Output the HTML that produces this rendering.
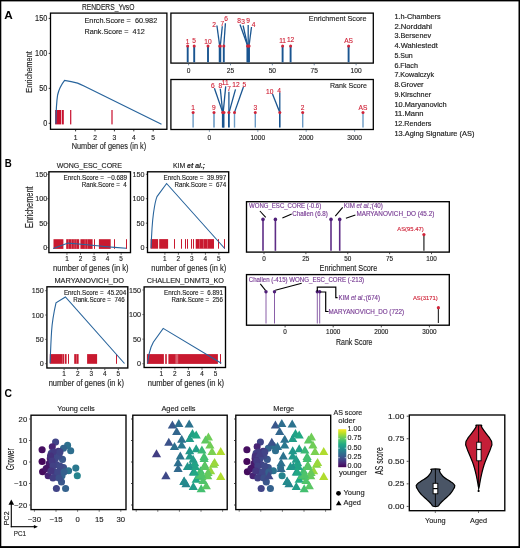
<!DOCTYPE html>
<html><head><meta charset="utf-8"><style>
html,body{margin:0;padding:0;background:#fff;}
svg{display:block;font-family:"Liberation Sans", sans-serif;will-change:transform;}
text{white-space:pre;}
</style></head><body>
<svg width="520" height="548" viewBox="0 0 520 548">
<rect width="520" height="548" fill="#fff"/>
<rect x="0.00" y="0.00" width="520.00" height="1.40" fill="#000"/>
<rect x="0.00" y="0.00" width="1.30" height="548.00" fill="#000"/>
<rect x="518.50" y="0.00" width="1.50" height="548.00" fill="#000"/>
<rect x="0.00" y="546.10" width="520.00" height="1.90" fill="#000"/>
<text x="4.30" y="18.80" font-size="11.2" textLength="8.50" lengthAdjust="spacingAndGlyphs" fill="#000" font-weight="bold">A</text>
<text x="81.90" y="10.00" font-size="8.6" textLength="52.50" lengthAdjust="spacingAndGlyphs" fill="#1e1e1e" stroke="#1e1e1e" stroke-width="0.14">RENDERS_YvsO</text>
<rect x="50.50" y="13.10" width="116.40" height="116.20" fill="none" stroke="#000" stroke-width="1.3"/>
<text x="47.30" y="21.35" font-size="8.2" text-anchor="end" textLength="12.21" lengthAdjust="spacingAndGlyphs" fill="#1e1e1e" stroke="#1e1e1e" stroke-width="0.14">150</text>
<line x1="48.70" y1="18.40" x2="50.00" y2="18.40" stroke="#000" stroke-width="0.8"/>
<text x="47.30" y="56.32" font-size="8.2" text-anchor="end" textLength="12.21" lengthAdjust="spacingAndGlyphs" fill="#1e1e1e" stroke="#1e1e1e" stroke-width="0.14">100</text>
<line x1="48.70" y1="53.37" x2="50.00" y2="53.37" stroke="#000" stroke-width="0.8"/>
<text x="47.30" y="91.28" font-size="8.2" text-anchor="end" textLength="8.14" lengthAdjust="spacingAndGlyphs" fill="#1e1e1e" stroke="#1e1e1e" stroke-width="0.14">50</text>
<line x1="48.70" y1="88.33" x2="50.00" y2="88.33" stroke="#000" stroke-width="0.8"/>
<text x="47.30" y="126.25" font-size="8.2" text-anchor="end" textLength="4.07" lengthAdjust="spacingAndGlyphs" fill="#1e1e1e" stroke="#1e1e1e" stroke-width="0.14">0</text>
<line x1="48.70" y1="123.30" x2="50.00" y2="123.30" stroke="#000" stroke-width="0.8"/>
<line x1="75.60" y1="129.80" x2="75.60" y2="131.40" stroke="#000" stroke-width="0.8"/>
<text x="75.60" y="139.50" font-size="6.7" text-anchor="middle" fill="#1e1e1e" stroke="#1e1e1e" stroke-width="0.14">1</text>
<line x1="95.00" y1="129.80" x2="95.00" y2="131.40" stroke="#000" stroke-width="0.8"/>
<text x="95.00" y="139.50" font-size="6.7" text-anchor="middle" fill="#1e1e1e" stroke="#1e1e1e" stroke-width="0.14">2</text>
<line x1="114.40" y1="129.80" x2="114.40" y2="131.40" stroke="#000" stroke-width="0.8"/>
<text x="114.40" y="139.50" font-size="6.7" text-anchor="middle" fill="#1e1e1e" stroke="#1e1e1e" stroke-width="0.14">3</text>
<line x1="133.80" y1="129.80" x2="133.80" y2="131.40" stroke="#000" stroke-width="0.8"/>
<text x="133.80" y="139.50" font-size="6.7" text-anchor="middle" fill="#1e1e1e" stroke="#1e1e1e" stroke-width="0.14">4</text>
<line x1="153.20" y1="129.80" x2="153.20" y2="131.40" stroke="#000" stroke-width="0.8"/>
<text x="153.20" y="139.50" font-size="6.7" text-anchor="middle" fill="#1e1e1e" stroke="#1e1e1e" stroke-width="0.14">5</text>
<text x="71.70" y="149.40" font-size="9.4" textLength="74.50" lengthAdjust="spacingAndGlyphs" fill="#1e1e1e" stroke="#1e1e1e" stroke-width="0.14">Number of genes (in k)</text>
<text x="0" y="0" font-size="9.9" text-anchor="middle" textLength="41.50" lengthAdjust="spacingAndGlyphs" fill="#1e1e1e" stroke="#1e1e1e" stroke-width="0.14" transform="translate(31.70,72.00) rotate(-90)">Enrichement</text>
<text x="84.50" y="23.40" font-size="7.2" textLength="72.70" lengthAdjust="spacingAndGlyphs" fill="#1e1e1e" stroke="#1e1e1e" stroke-width="0.14">Enrch.Score =  60.982</text>
<text x="84.50" y="34.10" font-size="7.2" textLength="60.20" lengthAdjust="spacingAndGlyphs" fill="#1e1e1e" stroke="#1e1e1e" stroke-width="0.14">Rank.Score =  412</text>
<rect x="55.10" y="110.00" width="6.20" height="14.40" fill="#c8102e"/>
<rect x="62.00" y="110.00" width="1.80" height="14.40" fill="#c8102e"/>
<rect x="70.10" y="110.00" width="1.20" height="14.40" fill="#c8102e"/>
<rect x="111.40" y="110.00" width="1.20" height="14.40" fill="#c8102e"/>
<path d="M55.9,123.8 C56,115 56.2,104 57.6,95 C59,89 61,85 64.6,80.4 L71.2,81.7 L77.6,83.1 C80,84 82,85 84,86 L161.5,124.2" stroke="#28649c" fill="none" stroke-width="1.2"/>
<rect x="170.90" y="13.10" width="202.40" height="50.00" fill="none" stroke="#000" stroke-width="1.3"/>
<text x="308.80" y="21.30" font-size="7.6" textLength="57.70" lengthAdjust="spacingAndGlyphs" fill="#1e1e1e" stroke="#1e1e1e" stroke-width="0.14">Enrichment Score</text>
<line x1="188.60" y1="63.80" x2="188.60" y2="65.30" stroke="#4a6a8a" stroke-width="0.8"/>
<text x="188.60" y="73.20" font-size="6.6" text-anchor="middle" fill="#1e1e1e" stroke="#1e1e1e" stroke-width="0.14">0</text>
<line x1="230.47" y1="63.80" x2="230.47" y2="65.30" stroke="#4a6a8a" stroke-width="0.8"/>
<text x="230.47" y="73.20" font-size="6.6" text-anchor="middle" fill="#1e1e1e" stroke="#1e1e1e" stroke-width="0.14">25</text>
<line x1="272.35" y1="63.80" x2="272.35" y2="65.30" stroke="#4a6a8a" stroke-width="0.8"/>
<text x="272.35" y="73.20" font-size="6.6" text-anchor="middle" fill="#1e1e1e" stroke="#1e1e1e" stroke-width="0.14">50</text>
<line x1="314.23" y1="63.80" x2="314.23" y2="65.30" stroke="#4a6a8a" stroke-width="0.8"/>
<text x="314.23" y="73.20" font-size="6.6" text-anchor="middle" fill="#1e1e1e" stroke="#1e1e1e" stroke-width="0.14">75</text>
<line x1="356.10" y1="63.80" x2="356.10" y2="65.30" stroke="#4a6a8a" stroke-width="0.8"/>
<text x="356.10" y="73.20" font-size="6.6" text-anchor="middle" fill="#1e1e1e" stroke="#1e1e1e" stroke-width="0.14">100</text>
<line x1="187.70" y1="46.00" x2="187.70" y2="62.30" stroke="#1a5590" stroke-width="1.9"/>
<line x1="194.20" y1="46.00" x2="194.20" y2="62.30" stroke="#1a5590" stroke-width="1.9"/>
<line x1="208.00" y1="46.00" x2="208.00" y2="62.30" stroke="#1a5590" stroke-width="1.9"/>
<line x1="219.70" y1="46.00" x2="219.70" y2="62.30" stroke="#1a5590" stroke-width="1.9"/>
<line x1="220.30" y1="46.00" x2="220.30" y2="62.30" stroke="#1a5590" stroke-width="1.9"/>
<line x1="223.80" y1="46.00" x2="223.80" y2="62.30" stroke="#1a5590" stroke-width="1.9"/>
<line x1="247.40" y1="46.00" x2="247.40" y2="62.30" stroke="#1a5590" stroke-width="1.9"/>
<line x1="248.30" y1="46.00" x2="248.30" y2="62.30" stroke="#1a5590" stroke-width="1.9"/>
<line x1="249.00" y1="46.00" x2="249.00" y2="62.30" stroke="#1a5590" stroke-width="1.9"/>
<line x1="282.60" y1="46.00" x2="282.60" y2="62.30" stroke="#1a5590" stroke-width="1.9"/>
<line x1="290.60" y1="46.00" x2="290.60" y2="62.30" stroke="#1a5590" stroke-width="1.9"/>
<line x1="348.60" y1="46.00" x2="348.60" y2="62.30" stroke="#1a5590" stroke-width="1.9"/>
<line x1="216.90" y1="25.50" x2="219.70" y2="46.00" stroke="#1a5590" stroke-width="1.3"/>
<line x1="222.30" y1="26.30" x2="220.30" y2="46.00" stroke="#1a5590" stroke-width="1.3"/>
<line x1="225.40" y1="23.20" x2="223.80" y2="46.00" stroke="#1a5590" stroke-width="1.3"/>
<line x1="240.00" y1="24.50" x2="247.70" y2="46.00" stroke="#1a5590" stroke-width="1.3"/>
<line x1="243.10" y1="25.50" x2="247.70" y2="46.00" stroke="#1a5590" stroke-width="1.3"/>
<line x1="248.20" y1="25.00" x2="248.20" y2="46.00" stroke="#1a5590" stroke-width="1.3"/>
<line x1="251.50" y1="27.00" x2="249.00" y2="46.00" stroke="#1a5590" stroke-width="1.3"/>
<circle cx="187.70" cy="46.00" r="1.5" fill="#d0253a"/>
<circle cx="194.20" cy="46.00" r="1.5" fill="#d0253a"/>
<circle cx="208.00" cy="46.00" r="1.5" fill="#d0253a"/>
<circle cx="219.70" cy="46.00" r="1.5" fill="#d0253a"/>
<circle cx="220.30" cy="46.00" r="1.5" fill="#d0253a"/>
<circle cx="223.80" cy="46.00" r="1.5" fill="#d0253a"/>
<circle cx="247.50" cy="46.00" r="1.5" fill="#d0253a"/>
<circle cx="248.30" cy="46.00" r="1.5" fill="#d0253a"/>
<circle cx="249.10" cy="46.00" r="1.5" fill="#d0253a"/>
<circle cx="282.60" cy="46.00" r="1.5" fill="#d0253a"/>
<circle cx="290.60" cy="46.00" r="1.5" fill="#d0253a"/>
<circle cx="348.60" cy="46.00" r="1.5" fill="#d0253a"/>
<text x="187.70" y="44.00" font-size="6.6" text-anchor="middle" fill="#d0253a" stroke="#d0253a" stroke-width="0.14">1</text>
<text x="194.20" y="42.80" font-size="6.6" text-anchor="middle" fill="#d0253a" stroke="#d0253a" stroke-width="0.14">5</text>
<text x="208.00" y="44.00" font-size="6.6" text-anchor="middle" fill="#d0253a" stroke="#d0253a" stroke-width="0.14">10</text>
<text x="214.20" y="26.80" font-size="6.6" text-anchor="middle" fill="#d0253a" stroke="#d0253a" stroke-width="0.14">2</text>
<text x="222.30" y="26.30" font-size="6.6" text-anchor="middle" fill="#d0253a" stroke="#d0253a" stroke-width="0.14">7</text>
<text x="226.20" y="21.20" font-size="6.6" text-anchor="middle" fill="#d0253a" stroke="#d0253a" stroke-width="0.14">6</text>
<text x="239.20" y="22.80" font-size="6.6" text-anchor="middle" fill="#d0253a" stroke="#d0253a" stroke-width="0.14">8</text>
<text x="243.10" y="24.30" font-size="6.6" text-anchor="middle" fill="#d0253a" stroke="#d0253a" stroke-width="0.14">3</text>
<text x="248.20" y="22.80" font-size="6.6" text-anchor="middle" fill="#d0253a" stroke="#d0253a" stroke-width="0.14">9</text>
<text x="253.50" y="26.80" font-size="6.6" text-anchor="middle" fill="#d0253a" stroke="#d0253a" stroke-width="0.14">4</text>
<text x="282.60" y="42.80" font-size="6.6" text-anchor="middle" fill="#d0253a" stroke="#d0253a" stroke-width="0.14">11</text>
<text x="290.60" y="41.80" font-size="6.6" text-anchor="middle" fill="#d0253a" stroke="#d0253a" stroke-width="0.14">12</text>
<text x="348.60" y="42.80" font-size="6.6" text-anchor="middle" fill="#d0253a" stroke="#d0253a" stroke-width="0.14">AS</text>
<rect x="170.90" y="79.50" width="202.40" height="50.00" fill="none" stroke="#000" stroke-width="1.3"/>
<text x="330.00" y="87.70" font-size="7.6" textLength="37.00" lengthAdjust="spacingAndGlyphs" fill="#1e1e1e" stroke="#1e1e1e" stroke-width="0.14">Rank Score</text>
<line x1="209.40" y1="130.20" x2="209.40" y2="131.70" stroke="#4a6a8a" stroke-width="0.8"/>
<text x="209.40" y="139.50" font-size="6.6" text-anchor="middle" fill="#1e1e1e" stroke="#1e1e1e" stroke-width="0.14">0</text>
<line x1="257.80" y1="130.20" x2="257.80" y2="131.70" stroke="#4a6a8a" stroke-width="0.8"/>
<text x="257.80" y="139.50" font-size="6.6" text-anchor="middle" fill="#1e1e1e" stroke="#1e1e1e" stroke-width="0.14">1000</text>
<line x1="306.20" y1="130.20" x2="306.20" y2="131.70" stroke="#4a6a8a" stroke-width="0.8"/>
<text x="306.20" y="139.50" font-size="6.6" text-anchor="middle" fill="#1e1e1e" stroke="#1e1e1e" stroke-width="0.14">2000</text>
<line x1="354.60" y1="130.20" x2="354.60" y2="131.70" stroke="#4a6a8a" stroke-width="0.8"/>
<text x="354.60" y="139.50" font-size="6.6" text-anchor="middle" fill="#1e1e1e" stroke="#1e1e1e" stroke-width="0.14">3000</text>
<line x1="193.10" y1="112.40" x2="193.10" y2="127.60" stroke="#6d9cc5" stroke-width="1.4"/>
<line x1="214.00" y1="112.40" x2="214.00" y2="127.60" stroke="#6d9cc5" stroke-width="1.6"/>
<line x1="222.70" y1="112.40" x2="222.70" y2="127.60" stroke="#1a5590" stroke-width="1.6"/>
<line x1="223.70" y1="112.40" x2="223.70" y2="127.60" stroke="#1a5590" stroke-width="1.6"/>
<line x1="228.90" y1="112.40" x2="228.90" y2="127.60" stroke="#1a5590" stroke-width="1.8"/>
<line x1="234.50" y1="112.40" x2="234.50" y2="127.60" stroke="#6d9cc5" stroke-width="1.4"/>
<line x1="255.30" y1="112.40" x2="255.30" y2="127.60" stroke="#6d9cc5" stroke-width="1.4"/>
<line x1="279.80" y1="112.40" x2="279.80" y2="127.60" stroke="#1a5590" stroke-width="1.6"/>
<line x1="302.70" y1="112.40" x2="302.70" y2="127.60" stroke="#6d9cc5" stroke-width="1.4"/>
<line x1="363.00" y1="112.40" x2="363.00" y2="127.60" stroke="#6d9cc5" stroke-width="1.4"/>
<line x1="214.40" y1="88.30" x2="222.70" y2="112.40" stroke="#1a5590" stroke-width="1.3"/>
<line x1="220.30" y1="88.80" x2="222.70" y2="112.40" stroke="#1a5590" stroke-width="1.3"/>
<line x1="225.70" y1="86.40" x2="223.20" y2="112.40" stroke="#1a5590" stroke-width="1.3"/>
<line x1="228.90" y1="91.80" x2="228.90" y2="112.40" stroke="#1a5590" stroke-width="1.3"/>
<line x1="235.50" y1="89.30" x2="229.10" y2="112.40" stroke="#1a5590" stroke-width="1.3"/>
<line x1="243.40" y1="87.00" x2="234.50" y2="112.40" stroke="#1a5590" stroke-width="1.3"/>
<line x1="272.50" y1="94.00" x2="279.80" y2="112.40" stroke="#1a5590" stroke-width="1.3"/>
<line x1="279.80" y1="92.50" x2="279.80" y2="112.40" stroke="#1a5590" stroke-width="1.3"/>
<circle cx="193.10" cy="112.40" r="1.5" fill="#d0253a"/>
<circle cx="214.00" cy="112.40" r="1.5" fill="#d0253a"/>
<circle cx="222.70" cy="112.40" r="1.5" fill="#d0253a"/>
<circle cx="224.00" cy="112.40" r="1.5" fill="#d0253a"/>
<circle cx="228.90" cy="112.40" r="1.5" fill="#d0253a"/>
<circle cx="234.50" cy="112.40" r="1.5" fill="#d0253a"/>
<circle cx="255.30" cy="112.40" r="1.5" fill="#d0253a"/>
<circle cx="279.80" cy="112.40" r="1.5" fill="#d0253a"/>
<circle cx="302.70" cy="112.40" r="1.5" fill="#d0253a"/>
<circle cx="363.00" cy="112.40" r="1.5" fill="#d0253a"/>
<text x="193.10" y="109.90" font-size="6.6" text-anchor="middle" fill="#d0253a" stroke="#d0253a" stroke-width="0.14">1</text>
<text x="213.90" y="110.10" font-size="6.6" text-anchor="middle" fill="#d0253a" stroke="#d0253a" stroke-width="0.14">9</text>
<text x="212.90" y="87.70" font-size="6.6" text-anchor="middle" fill="#d0253a" stroke="#d0253a" stroke-width="0.14">6</text>
<text x="220.30" y="88.30" font-size="6.6" text-anchor="middle" fill="#d0253a" stroke="#d0253a" stroke-width="0.14">8</text>
<text x="225.20" y="85.20" font-size="6.6" text-anchor="middle" fill="#d0253a" stroke="#d0253a" stroke-width="0.14">11</text>
<text x="229.10" y="91.10" font-size="6.6" text-anchor="middle" fill="#d0253a" stroke="#d0253a" stroke-width="0.14">7</text>
<text x="236.00" y="87.00" font-size="6.6" text-anchor="middle" fill="#d0253a" stroke="#d0253a" stroke-width="0.14">12</text>
<text x="244.40" y="87.20" font-size="6.6" text-anchor="middle" fill="#d0253a" stroke="#d0253a" stroke-width="0.14">5</text>
<text x="255.30" y="109.90" font-size="6.6" text-anchor="middle" fill="#d0253a" stroke="#d0253a" stroke-width="0.14">3</text>
<text x="269.70" y="93.70" font-size="6.6" text-anchor="middle" fill="#d0253a" stroke="#d0253a" stroke-width="0.14">10</text>
<text x="279.20" y="92.70" font-size="6.6" text-anchor="middle" fill="#d0253a" stroke="#d0253a" stroke-width="0.14">4</text>
<text x="302.70" y="110.10" font-size="6.6" text-anchor="middle" fill="#d0253a" stroke="#d0253a" stroke-width="0.14">2</text>
<text x="363.00" y="110.00" font-size="6.6" text-anchor="middle" fill="#d0253a" stroke="#d0253a" stroke-width="0.14">AS</text>
<text x="394.40" y="18.85" font-size="7.5" textLength="46.30" lengthAdjust="spacingAndGlyphs" fill="#1e1e1e" stroke="#1e1e1e" stroke-width="0.18">1.h-Chambers</text>
<text x="394.40" y="28.60" font-size="7.5" textLength="37.60" lengthAdjust="spacingAndGlyphs" fill="#1e1e1e" stroke="#1e1e1e" stroke-width="0.18">2.Norddahl</text>
<text x="394.40" y="38.35" font-size="7.5" textLength="36.70" lengthAdjust="spacingAndGlyphs" fill="#1e1e1e" stroke="#1e1e1e" stroke-width="0.18">3.Bersenev</text>
<text x="394.40" y="48.10" font-size="7.5" textLength="43.40" lengthAdjust="spacingAndGlyphs" fill="#1e1e1e" stroke="#1e1e1e" stroke-width="0.18">4.Wahlestedt</text>
<text x="394.40" y="57.85" font-size="7.5" textLength="18.30" lengthAdjust="spacingAndGlyphs" fill="#1e1e1e" stroke="#1e1e1e" stroke-width="0.18">5.Sun</text>
<text x="394.40" y="67.60" font-size="7.5" textLength="23.50" lengthAdjust="spacingAndGlyphs" fill="#1e1e1e" stroke="#1e1e1e" stroke-width="0.18">6.Flach</text>
<text x="394.40" y="77.35" font-size="7.5" textLength="39.60" lengthAdjust="spacingAndGlyphs" fill="#1e1e1e" stroke="#1e1e1e" stroke-width="0.18">7.Kowalczyk</text>
<text x="394.40" y="87.10" font-size="7.5" textLength="29.20" lengthAdjust="spacingAndGlyphs" fill="#1e1e1e" stroke="#1e1e1e" stroke-width="0.18">8.Grover</text>
<text x="394.40" y="96.85" font-size="7.5" textLength="36.70" lengthAdjust="spacingAndGlyphs" fill="#1e1e1e" stroke="#1e1e1e" stroke-width="0.18">9.Kirschner</text>
<text x="394.40" y="106.60" font-size="7.5" textLength="52.30" lengthAdjust="spacingAndGlyphs" fill="#1e1e1e" stroke="#1e1e1e" stroke-width="0.18">10.Maryanovich</text>
<text x="394.40" y="116.35" font-size="7.5" textLength="29.00" lengthAdjust="spacingAndGlyphs" fill="#1e1e1e" stroke="#1e1e1e" stroke-width="0.18">11.Mann</text>
<text x="394.40" y="126.10" font-size="7.5" textLength="37.00" lengthAdjust="spacingAndGlyphs" fill="#1e1e1e" stroke="#1e1e1e" stroke-width="0.18">12.Renders</text>
<text x="394.40" y="135.85" font-size="7.5" textLength="80.00" lengthAdjust="spacingAndGlyphs" fill="#1e1e1e" stroke="#1e1e1e" stroke-width="0.18">13.Aging Signature (AS)</text>
<text x="4.80" y="166.80" font-size="10.6" textLength="7.00" lengthAdjust="spacingAndGlyphs" fill="#000" font-weight="bold">B</text>
<text x="56.70" y="167.80" font-size="7.7" textLength="65.20" lengthAdjust="spacingAndGlyphs" fill="#1e1e1e" stroke="#1e1e1e" stroke-width="0.14">WONG_ESC_CORE</text>
<rect x="48.90" y="171.80" width="81.60" height="80.80" fill="none" stroke="#000" stroke-width="1.35"/>
<text x="47.30" y="176.89" font-size="7.2" text-anchor="end" textLength="12.00" lengthAdjust="spacingAndGlyphs" fill="#1e1e1e" stroke="#1e1e1e" stroke-width="0.14">150</text>
<line x1="47.30" y1="174.29" x2="48.30" y2="174.29" stroke="#000" stroke-width="0.7"/>
<text x="47.30" y="201.33" font-size="7.2" text-anchor="end" textLength="12.00" lengthAdjust="spacingAndGlyphs" fill="#1e1e1e" stroke="#1e1e1e" stroke-width="0.14">100</text>
<line x1="47.30" y1="198.73" x2="48.30" y2="198.73" stroke="#000" stroke-width="0.7"/>
<text x="47.30" y="225.76" font-size="7.2" text-anchor="end" textLength="8.00" lengthAdjust="spacingAndGlyphs" fill="#1e1e1e" stroke="#1e1e1e" stroke-width="0.14">50</text>
<line x1="47.30" y1="223.16" x2="48.30" y2="223.16" stroke="#000" stroke-width="0.7"/>
<text x="47.30" y="250.20" font-size="7.2" text-anchor="end" textLength="4.00" lengthAdjust="spacingAndGlyphs" fill="#1e1e1e" stroke="#1e1e1e" stroke-width="0.14">0</text>
<line x1="47.30" y1="247.60" x2="48.30" y2="247.60" stroke="#000" stroke-width="0.7"/>
<line x1="66.95" y1="253.30" x2="66.95" y2="254.80" stroke="#000" stroke-width="0.7"/>
<text x="66.95" y="260.90" font-size="6.4" text-anchor="middle" fill="#1e1e1e" stroke="#1e1e1e" stroke-width="0.14">1</text>
<line x1="80.50" y1="253.30" x2="80.50" y2="254.80" stroke="#000" stroke-width="0.7"/>
<text x="80.50" y="260.90" font-size="6.4" text-anchor="middle" fill="#1e1e1e" stroke="#1e1e1e" stroke-width="0.14">2</text>
<line x1="94.05" y1="253.30" x2="94.05" y2="254.80" stroke="#000" stroke-width="0.7"/>
<text x="94.05" y="260.90" font-size="6.4" text-anchor="middle" fill="#1e1e1e" stroke="#1e1e1e" stroke-width="0.14">3</text>
<line x1="107.60" y1="253.30" x2="107.60" y2="254.80" stroke="#000" stroke-width="0.7"/>
<text x="107.60" y="260.90" font-size="6.4" text-anchor="middle" fill="#1e1e1e" stroke="#1e1e1e" stroke-width="0.14">4</text>
<line x1="121.15" y1="253.30" x2="121.15" y2="254.80" stroke="#000" stroke-width="0.7"/>
<text x="121.15" y="260.90" font-size="6.4" text-anchor="middle" fill="#1e1e1e" stroke="#1e1e1e" stroke-width="0.14">5</text>
<text x="53.10" y="270.90" font-size="8.6" textLength="75.40" lengthAdjust="spacingAndGlyphs" fill="#1e1e1e" stroke="#1e1e1e" stroke-width="0.14">number of genes (in k)</text>
<text x="63.60" y="179.90" font-size="6.4" textLength="63.50" lengthAdjust="spacingAndGlyphs" fill="#1e1e1e" stroke="#1e1e1e" stroke-width="0.14">Enrch.Score =  −0.689</text>
<text x="81.70" y="187.00" font-size="6.4" textLength="45.10" lengthAdjust="spacingAndGlyphs" fill="#1e1e1e" stroke="#1e1e1e" stroke-width="0.14">Rank.Score =  4</text>
<rect x="53.50" y="239.20" width="9.90" height="9.70" fill="#c8192f"/>
<rect x="66.20" y="239.20" width="13.00" height="9.70" fill="#c8192f"/>
<rect x="68.40" y="239.20" width="0.50" height="9.70" fill="#e58a96"/>
<rect x="71.10" y="239.20" width="0.50" height="9.70" fill="#e58a96"/>
<rect x="73.80" y="239.20" width="0.50" height="9.70" fill="#e58a96"/>
<rect x="75.90" y="239.20" width="0.50" height="9.70" fill="#e58a96"/>
<rect x="80.40" y="239.20" width="12.20" height="9.70" fill="#c8192f"/>
<rect x="84.80" y="239.20" width="0.50" height="9.70" fill="#e58a96"/>
<rect x="87.20" y="239.20" width="0.50" height="9.70" fill="#e58a96"/>
<rect x="94.00" y="239.20" width="1.00" height="9.70" fill="#c8192f"/>
<rect x="98.90" y="239.20" width="11.80" height="9.70" fill="#c8192f"/>
<rect x="114.00" y="239.20" width="1.00" height="9.70" fill="#c8192f"/>
<rect x="126.00" y="239.20" width="1.00" height="9.70" fill="#c8192f"/>
<path d="M53.2,248.6 L68.1,243.1 L81.5,244.2 L97.3,245.8 L110,247 L114.7,247.4 L126.2,248.3" stroke="#28649c" fill="none" stroke-width="1.1"/>
<rect x="147.50" y="171.80" width="81.20" height="80.70" fill="none" stroke="#000" stroke-width="1.35"/>
<text x="144.40" y="176.89" font-size="7.2" text-anchor="end" textLength="12.00" lengthAdjust="spacingAndGlyphs" fill="#1e1e1e" stroke="#1e1e1e" stroke-width="0.14">150</text>
<line x1="145.90" y1="174.29" x2="146.90" y2="174.29" stroke="#000" stroke-width="0.7"/>
<text x="144.40" y="201.33" font-size="7.2" text-anchor="end" textLength="12.00" lengthAdjust="spacingAndGlyphs" fill="#1e1e1e" stroke="#1e1e1e" stroke-width="0.14">100</text>
<line x1="145.90" y1="198.73" x2="146.90" y2="198.73" stroke="#000" stroke-width="0.7"/>
<text x="144.40" y="225.76" font-size="7.2" text-anchor="end" textLength="8.00" lengthAdjust="spacingAndGlyphs" fill="#1e1e1e" stroke="#1e1e1e" stroke-width="0.14">50</text>
<line x1="145.90" y1="223.16" x2="146.90" y2="223.16" stroke="#000" stroke-width="0.7"/>
<text x="144.40" y="250.20" font-size="7.2" text-anchor="end" textLength="4.00" lengthAdjust="spacingAndGlyphs" fill="#1e1e1e" stroke="#1e1e1e" stroke-width="0.14">0</text>
<line x1="145.90" y1="247.60" x2="146.90" y2="247.60" stroke="#000" stroke-width="0.7"/>
<line x1="164.90" y1="253.20" x2="164.90" y2="254.70" stroke="#000" stroke-width="0.7"/>
<text x="164.90" y="260.80" font-size="6.4" text-anchor="middle" fill="#1e1e1e" stroke="#1e1e1e" stroke-width="0.14">1</text>
<line x1="178.40" y1="253.20" x2="178.40" y2="254.70" stroke="#000" stroke-width="0.7"/>
<text x="178.40" y="260.80" font-size="6.4" text-anchor="middle" fill="#1e1e1e" stroke="#1e1e1e" stroke-width="0.14">2</text>
<line x1="191.90" y1="253.20" x2="191.90" y2="254.70" stroke="#000" stroke-width="0.7"/>
<text x="191.90" y="260.80" font-size="6.4" text-anchor="middle" fill="#1e1e1e" stroke="#1e1e1e" stroke-width="0.14">3</text>
<line x1="205.40" y1="253.20" x2="205.40" y2="254.70" stroke="#000" stroke-width="0.7"/>
<text x="205.40" y="260.80" font-size="6.4" text-anchor="middle" fill="#1e1e1e" stroke="#1e1e1e" stroke-width="0.14">4</text>
<line x1="218.90" y1="253.20" x2="218.90" y2="254.70" stroke="#000" stroke-width="0.7"/>
<text x="218.90" y="260.80" font-size="6.4" text-anchor="middle" fill="#1e1e1e" stroke="#1e1e1e" stroke-width="0.14">5</text>
<text x="151.30" y="270.60" font-size="8.6" textLength="74.90" lengthAdjust="spacingAndGlyphs" fill="#1e1e1e" stroke="#1e1e1e" stroke-width="0.14">number of genes (in k)</text>
<text x="163.50" y="179.90" font-size="6.4" textLength="62.80" lengthAdjust="spacingAndGlyphs" fill="#1e1e1e" stroke="#1e1e1e" stroke-width="0.14">Enrch.Score =  39.997</text>
<text x="174.50" y="187.00" font-size="6.4" textLength="51.80" lengthAdjust="spacingAndGlyphs" fill="#1e1e1e" stroke="#1e1e1e" stroke-width="0.14">Rank.Score =  674</text>
<rect x="150.60" y="239.10" width="7.50" height="9.60" fill="#c8192f"/>
<rect x="159.20" y="239.10" width="8.90" height="9.60" fill="#c8192f"/>
<rect x="174.00" y="239.10" width="1.00" height="9.60" fill="#c8192f"/>
<rect x="181.00" y="239.10" width="1.00" height="9.60" fill="#c8192f"/>
<rect x="185.00" y="239.10" width="1.00" height="9.60" fill="#c8192f"/>
<rect x="187.00" y="239.10" width="1.00" height="9.60" fill="#c8192f"/>
<rect x="191.00" y="239.10" width="1.00" height="9.60" fill="#c8192f"/>
<rect x="193.00" y="239.10" width="1.00" height="9.60" fill="#c8192f"/>
<rect x="195.70" y="239.10" width="18.30" height="9.60" fill="#c8192f"/>
<rect x="199.50" y="239.10" width="0.50" height="9.60" fill="#e58a96"/>
<rect x="203.50" y="239.10" width="0.50" height="9.60" fill="#e58a96"/>
<rect x="207.00" y="239.10" width="0.50" height="9.60" fill="#e58a96"/>
<rect x="218.00" y="239.10" width="1.00" height="9.60" fill="#c8192f"/>
<rect x="224.00" y="239.10" width="1.00" height="9.60" fill="#c8192f"/>
<path d="M151.1,248.2 C151.5,235 152,224 153.5,213 C154.5,206 155.5,200 157,196.6 L166.6,183.5 L224.7,248.5" stroke="#28649c" fill="none" stroke-width="1.1"/>
<text x="54.40" y="282.80" font-size="7.7" textLength="69.60" lengthAdjust="spacingAndGlyphs" fill="#1e1e1e" stroke="#1e1e1e" stroke-width="0.14">MARYANOVICH_DO</text>
<rect x="46.90" y="286.80" width="80.90" height="81.20" fill="none" stroke="#000" stroke-width="1.35"/>
<text x="43.70" y="293.30" font-size="7.2" text-anchor="end" textLength="12.00" lengthAdjust="spacingAndGlyphs" fill="#1e1e1e" stroke="#1e1e1e" stroke-width="0.14">150</text>
<line x1="45.30" y1="290.69" x2="46.30" y2="290.69" stroke="#000" stroke-width="0.7"/>
<text x="43.70" y="317.63" font-size="7.2" text-anchor="end" textLength="12.00" lengthAdjust="spacingAndGlyphs" fill="#1e1e1e" stroke="#1e1e1e" stroke-width="0.14">100</text>
<line x1="45.30" y1="315.03" x2="46.30" y2="315.03" stroke="#000" stroke-width="0.7"/>
<text x="43.70" y="341.97" font-size="7.2" text-anchor="end" textLength="8.00" lengthAdjust="spacingAndGlyphs" fill="#1e1e1e" stroke="#1e1e1e" stroke-width="0.14">50</text>
<line x1="45.30" y1="339.37" x2="46.30" y2="339.37" stroke="#000" stroke-width="0.7"/>
<text x="43.70" y="366.30" font-size="7.2" text-anchor="end" textLength="4.00" lengthAdjust="spacingAndGlyphs" fill="#1e1e1e" stroke="#1e1e1e" stroke-width="0.14">0</text>
<line x1="45.30" y1="363.70" x2="46.30" y2="363.70" stroke="#000" stroke-width="0.7"/>
<line x1="64.15" y1="368.70" x2="64.15" y2="370.20" stroke="#000" stroke-width="0.7"/>
<text x="64.15" y="376.30" font-size="6.4" text-anchor="middle" fill="#1e1e1e" stroke="#1e1e1e" stroke-width="0.14">1</text>
<line x1="77.70" y1="368.70" x2="77.70" y2="370.20" stroke="#000" stroke-width="0.7"/>
<text x="77.70" y="376.30" font-size="6.4" text-anchor="middle" fill="#1e1e1e" stroke="#1e1e1e" stroke-width="0.14">2</text>
<line x1="91.25" y1="368.70" x2="91.25" y2="370.20" stroke="#000" stroke-width="0.7"/>
<text x="91.25" y="376.30" font-size="6.4" text-anchor="middle" fill="#1e1e1e" stroke="#1e1e1e" stroke-width="0.14">3</text>
<line x1="104.80" y1="368.70" x2="104.80" y2="370.20" stroke="#000" stroke-width="0.7"/>
<text x="104.80" y="376.30" font-size="6.4" text-anchor="middle" fill="#1e1e1e" stroke="#1e1e1e" stroke-width="0.14">4</text>
<line x1="118.35" y1="368.70" x2="118.35" y2="370.20" stroke="#000" stroke-width="0.7"/>
<text x="118.35" y="376.30" font-size="6.4" text-anchor="middle" fill="#1e1e1e" stroke="#1e1e1e" stroke-width="0.14">5</text>
<text x="48.70" y="385.90" font-size="8.6" textLength="75.20" lengthAdjust="spacingAndGlyphs" fill="#1e1e1e" stroke="#1e1e1e" stroke-width="0.14">number of genes (in k)</text>
<text x="63.90" y="294.90" font-size="6.4" textLength="62.40" lengthAdjust="spacingAndGlyphs" fill="#1e1e1e" stroke="#1e1e1e" stroke-width="0.14">Enrch.Score =  45.204</text>
<text x="73.20" y="302.00" font-size="6.4" textLength="51.60" lengthAdjust="spacingAndGlyphs" fill="#1e1e1e" stroke="#1e1e1e" stroke-width="0.14">Rank.Score =  746</text>
<rect x="49.80" y="354.10" width="14.20" height="9.70" fill="#c8192f"/>
<rect x="62.30" y="354.10" width="0.50" height="9.70" fill="#e58a96"/>
<rect x="64.70" y="354.10" width="1.90" height="9.70" fill="#c8192f"/>
<rect x="68.00" y="354.10" width="1.00" height="9.70" fill="#c8192f"/>
<rect x="74.20" y="354.10" width="4.40" height="9.70" fill="#c8192f"/>
<rect x="76.00" y="354.10" width="0.50" height="9.70" fill="#e58a96"/>
<rect x="87.10" y="354.10" width="10.00" height="9.70" fill="#c8192f"/>
<rect x="116.00" y="354.10" width="1.00" height="9.70" fill="#c8192f"/>
<path d="M50.1,363.2 C50.6,350 51,340 51.6,331 C52.2,322 53,316 56,302.8 L65.4,297 L124.5,363.5" stroke="#28649c" fill="none" stroke-width="1.1"/>
<text x="146.70" y="282.90" font-size="7.7" textLength="77.30" lengthAdjust="spacingAndGlyphs" fill="#1e1e1e" stroke="#1e1e1e" stroke-width="0.14">CHALLEN_DNMT3_KO</text>
<rect x="144.10" y="286.90" width="81.40" height="80.60" fill="none" stroke="#000" stroke-width="1.35"/>
<text x="141.00" y="292.61" font-size="7.2" text-anchor="end" textLength="12.00" lengthAdjust="spacingAndGlyphs" fill="#1e1e1e" stroke="#1e1e1e" stroke-width="0.14">150</text>
<line x1="142.50" y1="290.00" x2="143.50" y2="290.00" stroke="#000" stroke-width="0.7"/>
<text x="141.00" y="317.17" font-size="7.2" text-anchor="end" textLength="12.00" lengthAdjust="spacingAndGlyphs" fill="#1e1e1e" stroke="#1e1e1e" stroke-width="0.14">100</text>
<line x1="142.50" y1="314.57" x2="143.50" y2="314.57" stroke="#000" stroke-width="0.7"/>
<text x="141.00" y="341.74" font-size="7.2" text-anchor="end" textLength="8.00" lengthAdjust="spacingAndGlyphs" fill="#1e1e1e" stroke="#1e1e1e" stroke-width="0.14">50</text>
<line x1="142.50" y1="339.13" x2="143.50" y2="339.13" stroke="#000" stroke-width="0.7"/>
<text x="141.00" y="366.30" font-size="7.2" text-anchor="end" textLength="4.00" lengthAdjust="spacingAndGlyphs" fill="#1e1e1e" stroke="#1e1e1e" stroke-width="0.14">0</text>
<line x1="142.50" y1="363.70" x2="143.50" y2="363.70" stroke="#000" stroke-width="0.7"/>
<line x1="161.35" y1="368.20" x2="161.35" y2="369.70" stroke="#000" stroke-width="0.7"/>
<text x="161.35" y="375.80" font-size="6.4" text-anchor="middle" fill="#1e1e1e" stroke="#1e1e1e" stroke-width="0.14">1</text>
<line x1="174.90" y1="368.20" x2="174.90" y2="369.70" stroke="#000" stroke-width="0.7"/>
<text x="174.90" y="375.80" font-size="6.4" text-anchor="middle" fill="#1e1e1e" stroke="#1e1e1e" stroke-width="0.14">2</text>
<line x1="188.45" y1="368.20" x2="188.45" y2="369.70" stroke="#000" stroke-width="0.7"/>
<text x="188.45" y="375.80" font-size="6.4" text-anchor="middle" fill="#1e1e1e" stroke="#1e1e1e" stroke-width="0.14">3</text>
<line x1="202.00" y1="368.20" x2="202.00" y2="369.70" stroke="#000" stroke-width="0.7"/>
<text x="202.00" y="375.80" font-size="6.4" text-anchor="middle" fill="#1e1e1e" stroke="#1e1e1e" stroke-width="0.14">4</text>
<line x1="215.55" y1="368.20" x2="215.55" y2="369.70" stroke="#000" stroke-width="0.7"/>
<text x="215.55" y="375.80" font-size="6.4" text-anchor="middle" fill="#1e1e1e" stroke="#1e1e1e" stroke-width="0.14">5</text>
<text x="147.80" y="385.90" font-size="8.6" textLength="76.20" lengthAdjust="spacingAndGlyphs" fill="#1e1e1e" stroke="#1e1e1e" stroke-width="0.14">number of genes (in k)</text>
<text x="164.10" y="295.00" font-size="6.4" textLength="58.80" lengthAdjust="spacingAndGlyphs" fill="#1e1e1e" stroke="#1e1e1e" stroke-width="0.14">Enrch.Score =  6.891</text>
<text x="171.50" y="302.10" font-size="6.4" textLength="51.40" lengthAdjust="spacingAndGlyphs" fill="#1e1e1e" stroke="#1e1e1e" stroke-width="0.14">Rank.Score =  256</text>
<rect x="146.90" y="354.10" width="17.00" height="9.80" fill="#c8192f"/>
<rect x="165.20" y="354.10" width="1.60" height="9.80" fill="#c8192f"/>
<rect x="168.40" y="354.10" width="49.50" height="9.80" fill="#c8192f"/>
<rect x="175.40" y="354.10" width="2.80" height="9.80" fill="#d9606f"/>
<rect x="220.00" y="354.10" width="1.00" height="9.80" fill="#c8192f"/>
<path d="M147.5,363.5 L149.1,353.8 L151,347.3 L153.3,342.3 L163.2,328.4 L221.3,363.3" stroke="#28649c" fill="none" stroke-width="1.1"/>
<text x="0" y="0" font-size="10.2" text-anchor="middle" textLength="41.70" lengthAdjust="spacingAndGlyphs" fill="#1e1e1e" stroke="#1e1e1e" stroke-width="0.14" transform="translate(33.00,207.20) rotate(-90)">Enrichement</text>
<text x="172.9" y="167.7" font-size="7.7" fill="#1e1e1e" stroke="#1e1e1e" stroke-width="0.14" textLength="32.3" lengthAdjust="spacingAndGlyphs">KIM <tspan font-style="italic" font-weight="bold">et al.;</tspan></text>
<rect x="246.50" y="201.70" width="202.80" height="50.40" fill="none" stroke="#000" stroke-width="1.35"/>
<line x1="264.00" y1="252.70" x2="264.00" y2="254.20" stroke="#000" stroke-width="0.7"/>
<text x="264.00" y="260.80" font-size="6.4" text-anchor="middle" fill="#1e1e1e" stroke="#1e1e1e" stroke-width="0.14">0</text>
<line x1="305.88" y1="252.70" x2="305.88" y2="254.20" stroke="#000" stroke-width="0.7"/>
<text x="305.88" y="260.80" font-size="6.4" text-anchor="middle" fill="#1e1e1e" stroke="#1e1e1e" stroke-width="0.14">25</text>
<line x1="347.75" y1="252.70" x2="347.75" y2="254.20" stroke="#000" stroke-width="0.7"/>
<text x="347.75" y="260.80" font-size="6.4" text-anchor="middle" fill="#1e1e1e" stroke="#1e1e1e" stroke-width="0.14">50</text>
<line x1="389.62" y1="252.70" x2="389.62" y2="254.20" stroke="#000" stroke-width="0.7"/>
<text x="389.62" y="260.80" font-size="6.4" text-anchor="middle" fill="#1e1e1e" stroke="#1e1e1e" stroke-width="0.14">75</text>
<line x1="431.50" y1="252.70" x2="431.50" y2="254.20" stroke="#000" stroke-width="0.7"/>
<text x="431.50" y="260.80" font-size="6.4" text-anchor="middle" fill="#1e1e1e" stroke="#1e1e1e" stroke-width="0.14">100</text>
<text x="319.60" y="271.00" font-size="8.6" textLength="57.70" lengthAdjust="spacingAndGlyphs" fill="#1e1e1e" stroke="#1e1e1e" stroke-width="0.14">Enrichment Score</text>
<line x1="263.00" y1="219.50" x2="263.00" y2="250.80" stroke="#5e2c86" stroke-width="1.6"/>
<circle cx="263.00" cy="219.40" r="1.8" fill="#4f1f78"/>
<line x1="275.39" y1="219.50" x2="275.39" y2="250.80" stroke="#5e2c86" stroke-width="1.6"/>
<circle cx="275.39" cy="219.40" r="1.8" fill="#4f1f78"/>
<line x1="331.00" y1="219.50" x2="331.00" y2="250.80" stroke="#5e2c86" stroke-width="1.6"/>
<circle cx="331.00" cy="219.40" r="1.8" fill="#4f1f78"/>
<line x1="339.71" y1="219.50" x2="339.71" y2="250.80" stroke="#5e2c86" stroke-width="1.6"/>
<circle cx="339.71" cy="219.40" r="1.8" fill="#4f1f78"/>
<line x1="423.91" y1="234.60" x2="423.91" y2="250.80" stroke="#333" stroke-width="1.3"/>
<circle cx="423.91" cy="234.60" r="1.6" fill="#d0253a"/>
<line x1="259.90" y1="211.00" x2="265.70" y2="217.30" stroke="#000" stroke-width="1.1"/>
<line x1="282.40" y1="217.90" x2="291.70" y2="213.90" stroke="#000" stroke-width="1.1"/>
<line x1="335.30" y1="216.20" x2="342.70" y2="207.30" stroke="#000" stroke-width="1.1"/>
<line x1="345.90" y1="218.30" x2="355.40" y2="215.10" stroke="#000" stroke-width="1.1"/>
<text x="249.00" y="207.70" font-size="6.4" textLength="72.20" lengthAdjust="spacingAndGlyphs" fill="#773a93" stroke="#773a93" stroke-width="0.14">WONG_ESC_CORE (-0.6)</text>
<text x="292.30" y="215.60" font-size="6.4" textLength="35.60" lengthAdjust="spacingAndGlyphs" fill="#773a93" stroke="#773a93" stroke-width="0.14">Challen (6.8)</text>
<text x="343.8" y="207.6" font-size="6.4" fill="#773a93" stroke="#773a93" stroke-width="0.14" textLength="39.1" lengthAdjust="spacingAndGlyphs">KIM <tspan font-style="italic">et al.;</tspan>(40)</text>
<text x="356.40" y="216.30" font-size="6.4" textLength="77.90" lengthAdjust="spacingAndGlyphs" fill="#773a93" stroke="#773a93" stroke-width="0.14">MARYANOVICH_DO (45.2)</text>
<text x="397.30" y="230.50" font-size="6.2" textLength="26.40" lengthAdjust="spacingAndGlyphs" fill="#d0253a" stroke="#d0253a" stroke-width="0.14">AS(95.47)</text>
<rect x="246.50" y="274.60" width="202.80" height="50.60" fill="none" stroke="#000" stroke-width="1.35"/>
<line x1="285.10" y1="325.90" x2="285.10" y2="327.40" stroke="#000" stroke-width="0.7"/>
<text x="285.10" y="333.80" font-size="6.4" text-anchor="middle" fill="#1e1e1e" stroke="#1e1e1e" stroke-width="0.14">0</text>
<line x1="333.20" y1="325.90" x2="333.20" y2="327.40" stroke="#000" stroke-width="0.7"/>
<text x="333.20" y="333.80" font-size="6.4" text-anchor="middle" fill="#1e1e1e" stroke="#1e1e1e" stroke-width="0.14">1000</text>
<line x1="381.30" y1="325.90" x2="381.30" y2="327.40" stroke="#000" stroke-width="0.7"/>
<text x="381.30" y="333.80" font-size="6.4" text-anchor="middle" fill="#1e1e1e" stroke="#1e1e1e" stroke-width="0.14">2000</text>
<line x1="429.40" y1="325.90" x2="429.40" y2="327.40" stroke="#000" stroke-width="0.7"/>
<text x="429.40" y="333.80" font-size="6.4" text-anchor="middle" fill="#1e1e1e" stroke="#1e1e1e" stroke-width="0.14">3000</text>
<text x="336.00" y="345.20" font-size="8.6" textLength="36.50" lengthAdjust="spacingAndGlyphs" fill="#1e1e1e" stroke="#1e1e1e" stroke-width="0.14">Rank Score</text>
<line x1="266.00" y1="291.80" x2="266.00" y2="323.50" stroke="#8a5fa8" stroke-width="1.0"/>
<circle cx="266.00" cy="291.80" r="1.7" fill="#4f1f78"/>
<line x1="274.50" y1="291.80" x2="274.50" y2="323.50" stroke="#8a5fa8" stroke-width="1.0"/>
<circle cx="274.50" cy="291.80" r="1.7" fill="#4f1f78"/>
<line x1="317.30" y1="291.80" x2="317.30" y2="323.50" stroke="#8a5fa8" stroke-width="1.0"/>
<circle cx="317.30" cy="291.80" r="1.7" fill="#4f1f78"/>
<line x1="319.70" y1="291.80" x2="319.70" y2="323.50" stroke="#8a5fa8" stroke-width="1.0"/>
<circle cx="319.70" cy="291.80" r="1.7" fill="#4f1f78"/>
<line x1="438.40" y1="307.70" x2="438.40" y2="323.00" stroke="#333" stroke-width="1.2"/>
<circle cx="438.40" cy="307.70" r="1.6" fill="#d0253a"/>
<line x1="260.30" y1="283.90" x2="265.50" y2="290.30" stroke="#000" stroke-width="1.1"/>
<line x1="275.30" y1="290.30" x2="301.70" y2="283.20" stroke="#000" stroke-width="1.1"/>
<path d="M317.3,291.5 L317.3,287.1 L335.8,287.1 L335.8,297.7 L337.6,297.7" stroke="#000" fill="none" stroke-width="1.2"/>
<path d="M320.5,292.0 L325.7,292.0 L325.7,311.5 L328.6,311.5" stroke="#000" fill="none" stroke-width="1.2"/>
<text x="248.80" y="281.80" font-size="6.4" textLength="115.30" lengthAdjust="spacingAndGlyphs" fill="#773a93" stroke="#773a93" stroke-width="0.14">Challen (-415) WONG_ESC_CORE (-213)</text>
<text x="338.4" y="299.8" font-size="6.4" fill="#773a93" stroke="#773a93" stroke-width="0.14" textLength="41.6" lengthAdjust="spacingAndGlyphs">KIM <tspan font-style="italic">et al.;</tspan>(674)</text>
<text x="328.60" y="313.60" font-size="6.4" textLength="75.40" lengthAdjust="spacingAndGlyphs" fill="#773a93" stroke="#773a93" stroke-width="0.14">MARYANOVICH_DO (722)</text>
<text x="412.90" y="300.20" font-size="6.2" textLength="24.80" lengthAdjust="spacingAndGlyphs" fill="#d0253a" stroke="#d0253a" stroke-width="0.14">AS(3171)</text>
<text x="4.60" y="397.20" font-size="11.2" textLength="7.50" lengthAdjust="spacingAndGlyphs" fill="#000" font-weight="bold">C</text>
<text x="76.00" y="410.90" font-size="7.4" text-anchor="middle" fill="#1e1e1e" stroke="#1e1e1e" stroke-width="0.14">Young cells</text>
<rect x="31.00" y="415.20" width="95.00" height="94.40" fill="none" stroke="#000" stroke-width="1.35"/>
<line x1="34.40" y1="510.30" x2="34.40" y2="511.60" stroke="#000" stroke-width="0.7"/>
<line x1="56.00" y1="510.30" x2="56.00" y2="511.60" stroke="#000" stroke-width="0.7"/>
<line x1="77.60" y1="510.30" x2="77.60" y2="511.60" stroke="#000" stroke-width="0.7"/>
<line x1="99.20" y1="510.30" x2="99.20" y2="511.60" stroke="#000" stroke-width="0.7"/>
<line x1="120.80" y1="510.30" x2="120.80" y2="511.60" stroke="#000" stroke-width="0.7"/>
<line x1="29.20" y1="419.00" x2="30.30" y2="419.00" stroke="#000" stroke-width="0.7"/>
<line x1="29.20" y1="440.50" x2="30.30" y2="440.50" stroke="#000" stroke-width="0.7"/>
<line x1="29.20" y1="462.00" x2="30.30" y2="462.00" stroke="#000" stroke-width="0.7"/>
<line x1="29.20" y1="483.50" x2="30.30" y2="483.50" stroke="#000" stroke-width="0.7"/>
<line x1="29.20" y1="505.00" x2="30.30" y2="505.00" stroke="#000" stroke-width="0.7"/>
<text x="178.50" y="410.90" font-size="7.4" text-anchor="middle" fill="#1e1e1e" stroke="#1e1e1e" stroke-width="0.14">Aged cells</text>
<rect x="132.80" y="415.20" width="94.40" height="94.40" fill="none" stroke="#000" stroke-width="1.35"/>
<line x1="136.20" y1="510.30" x2="136.20" y2="511.60" stroke="#000" stroke-width="0.7"/>
<line x1="157.80" y1="510.30" x2="157.80" y2="511.60" stroke="#000" stroke-width="0.7"/>
<line x1="179.40" y1="510.30" x2="179.40" y2="511.60" stroke="#000" stroke-width="0.7"/>
<line x1="201.00" y1="510.30" x2="201.00" y2="511.60" stroke="#000" stroke-width="0.7"/>
<line x1="222.60" y1="510.30" x2="222.60" y2="511.60" stroke="#000" stroke-width="0.7"/>
<line x1="131.00" y1="419.00" x2="132.10" y2="419.00" stroke="#000" stroke-width="0.7"/>
<line x1="131.00" y1="440.50" x2="132.10" y2="440.50" stroke="#000" stroke-width="0.7"/>
<line x1="131.00" y1="462.00" x2="132.10" y2="462.00" stroke="#000" stroke-width="0.7"/>
<line x1="131.00" y1="483.50" x2="132.10" y2="483.50" stroke="#000" stroke-width="0.7"/>
<line x1="131.00" y1="505.00" x2="132.10" y2="505.00" stroke="#000" stroke-width="0.7"/>
<text x="283.70" y="410.90" font-size="7.4" text-anchor="middle" fill="#1e1e1e" stroke="#1e1e1e" stroke-width="0.14">Merge</text>
<rect x="235.80" y="415.20" width="94.90" height="94.40" fill="none" stroke="#000" stroke-width="1.35"/>
<line x1="239.20" y1="510.30" x2="239.20" y2="511.60" stroke="#000" stroke-width="0.7"/>
<line x1="260.80" y1="510.30" x2="260.80" y2="511.60" stroke="#000" stroke-width="0.7"/>
<line x1="282.40" y1="510.30" x2="282.40" y2="511.60" stroke="#000" stroke-width="0.7"/>
<line x1="304.00" y1="510.30" x2="304.00" y2="511.60" stroke="#000" stroke-width="0.7"/>
<line x1="325.60" y1="510.30" x2="325.60" y2="511.60" stroke="#000" stroke-width="0.7"/>
<line x1="234.00" y1="419.00" x2="235.10" y2="419.00" stroke="#000" stroke-width="0.7"/>
<line x1="234.00" y1="440.50" x2="235.10" y2="440.50" stroke="#000" stroke-width="0.7"/>
<line x1="234.00" y1="462.00" x2="235.10" y2="462.00" stroke="#000" stroke-width="0.7"/>
<line x1="234.00" y1="483.50" x2="235.10" y2="483.50" stroke="#000" stroke-width="0.7"/>
<line x1="234.00" y1="505.00" x2="235.10" y2="505.00" stroke="#000" stroke-width="0.7"/>
<text x="27.20" y="421.70" font-size="7.6" text-anchor="end" textLength="8.60" lengthAdjust="spacingAndGlyphs" fill="#1e1e1e" stroke="#1e1e1e" stroke-width="0.14">20</text>
<text x="27.20" y="443.20" font-size="7.6" text-anchor="end" textLength="8.60" lengthAdjust="spacingAndGlyphs" fill="#1e1e1e" stroke="#1e1e1e" stroke-width="0.14">10</text>
<text x="27.20" y="464.70" font-size="7.6" text-anchor="end" textLength="4.30" lengthAdjust="spacingAndGlyphs" fill="#1e1e1e" stroke="#1e1e1e" stroke-width="0.14">0</text>
<text x="27.20" y="486.20" font-size="7.6" text-anchor="end" textLength="13.10" lengthAdjust="spacingAndGlyphs" fill="#1e1e1e" stroke="#1e1e1e" stroke-width="0.14">−10</text>
<text x="27.20" y="507.70" font-size="7.6" text-anchor="end" textLength="13.10" lengthAdjust="spacingAndGlyphs" fill="#1e1e1e" stroke="#1e1e1e" stroke-width="0.14">−20</text>
<text x="34.40" y="522.30" font-size="7.6" text-anchor="middle" textLength="13.20" lengthAdjust="spacingAndGlyphs" fill="#1e1e1e" stroke="#1e1e1e" stroke-width="0.14">−30</text>
<text x="56.00" y="522.30" font-size="7.6" text-anchor="middle" textLength="13.20" lengthAdjust="spacingAndGlyphs" fill="#1e1e1e" stroke="#1e1e1e" stroke-width="0.14">−15</text>
<text x="77.60" y="522.30" font-size="7.6" text-anchor="middle" textLength="4.30" lengthAdjust="spacingAndGlyphs" fill="#1e1e1e" stroke="#1e1e1e" stroke-width="0.14">0</text>
<text x="99.20" y="522.30" font-size="7.6" text-anchor="middle" textLength="8.60" lengthAdjust="spacingAndGlyphs" fill="#1e1e1e" stroke="#1e1e1e" stroke-width="0.14">15</text>
<text x="120.80" y="522.30" font-size="7.6" text-anchor="middle" textLength="8.60" lengthAdjust="spacingAndGlyphs" fill="#1e1e1e" stroke="#1e1e1e" stroke-width="0.14">30</text>
<text x="0" y="0" font-size="11.0" text-anchor="middle" textLength="22.10" lengthAdjust="spacingAndGlyphs" fill="#1e1e1e" stroke="#1e1e1e" stroke-width="0.14" transform="translate(14.20,459.20) rotate(-90)">Grower</text>
<circle cx="55.60" cy="442.10" r="3.55" fill="#414487"/>
<circle cx="42.10" cy="449.70" r="3.55" fill="#460f61"/>
<circle cx="52.30" cy="446.70" r="3.55" fill="#482475"/>
<circle cx="67.60" cy="445.40" r="3.55" fill="#2d708e"/>
<circle cx="70.70" cy="450.80" r="3.55" fill="#2e6e8e"/>
<circle cx="63.50" cy="448.20" r="3.55" fill="#33648d"/>
<circle cx="58.40" cy="451.30" r="3.55" fill="#44347e"/>
<circle cx="51.30" cy="453.30" r="3.55" fill="#414487"/>
<circle cx="54.00" cy="452.00" r="3.55" fill="#433a82"/>
<circle cx="62.50" cy="459.40" r="3.55" fill="#39578b"/>
<circle cx="42.10" cy="461.50" r="3.55" fill="#45085b"/>
<circle cx="49.20" cy="463.50" r="3.55" fill="#471a6b"/>
<circle cx="50.30" cy="458.40" r="3.55" fill="#471d6e"/>
<circle cx="55.40" cy="458.40" r="3.55" fill="#404788"/>
<circle cx="59.00" cy="456.00" r="3.55" fill="#3f4988"/>
<circle cx="56.40" cy="464.50" r="3.55" fill="#414487"/>
<circle cx="63.50" cy="467.60" r="3.55" fill="#3b528a"/>
<circle cx="48.20" cy="467.60" r="3.55" fill="#471d6e"/>
<circle cx="60.00" cy="470.00" r="3.55" fill="#3c4f89"/>
<circle cx="68.60" cy="470.70" r="3.55" fill="#2c738e"/>
<circle cx="75.80" cy="468.10" r="3.55" fill="#2a788e"/>
<circle cx="77.30" cy="475.80" r="3.55" fill="#26848d"/>
<circle cx="42.60" cy="471.70" r="3.55" fill="#450c5e"/>
<circle cx="46.20" cy="468.60" r="3.55" fill="#461668"/>
<circle cx="48.20" cy="475.80" r="3.55" fill="#482475"/>
<circle cx="54.30" cy="471.70" r="3.55" fill="#414487"/>
<circle cx="56.40" cy="476.80" r="3.55" fill="#414487"/>
<circle cx="62.00" cy="475.80" r="3.55" fill="#33648d"/>
<circle cx="61.50" cy="481.90" r="3.55" fill="#39578b"/>
<circle cx="56.40" cy="488.50" r="3.55" fill="#414487"/>
<circle cx="65.60" cy="488.50" r="3.55" fill="#34628d"/>
<circle cx="50.50" cy="456.00" r="3.55" fill="#45317c"/>
<circle cx="52.00" cy="461.00" r="3.55" fill="#433a82"/>
<circle cx="53.00" cy="466.00" r="3.55" fill="#424185"/>
<circle cx="51.00" cy="471.00" r="3.55" fill="#443780"/>
<circle cx="60.00" cy="466.00" r="3.55" fill="#3f4988"/>
<circle cx="58.00" cy="472.00" r="3.55" fill="#404788"/>
<circle cx="53.00" cy="478.00" r="3.55" fill="#423e83"/>
<circle cx="59.00" cy="478.00" r="3.55" fill="#3c4f89"/>
<circle cx="64.00" cy="472.00" r="3.55" fill="#355f8d"/>
<circle cx="60.00" cy="452.00" r="3.55" fill="#414487"/>
<path d="M172.40,420.40 L177.00,428.40 L167.80,428.40 Z" fill="#39578b"/>
<path d="M178.80,418.90 L183.40,426.90 L174.20,426.90 Z" fill="#2e6e8e"/>
<path d="M189.20,419.40 L193.80,427.40 L184.60,427.40 Z" fill="#2c738e"/>
<path d="M176.70,426.90 L181.30,434.90 L172.10,434.90 Z" fill="#32668d"/>
<path d="M192.50,429.00 L197.10,437.00 L187.90,437.00 Z" fill="#22a186"/>
<path d="M196.20,430.50 L200.80,438.50 L191.60,438.50 Z" fill="#22a884"/>
<path d="M189.70,434.10 L194.30,442.10 L185.10,442.10 Z" fill="#229c88"/>
<path d="M208.40,432.60 L213.00,440.60 L203.80,440.60 Z" fill="#6fcd57"/>
<path d="M205.50,435.50 L210.10,443.50 L200.90,443.50 Z" fill="#5fc860"/>
<path d="M168.80,437.70 L173.40,445.70 L164.20,445.70 Z" fill="#3b528a"/>
<path d="M181.70,434.80 L186.30,442.80 L177.10,442.80 Z" fill="#2d708e"/>
<path d="M174.50,442.00 L179.10,450.00 L169.90,450.00 Z" fill="#2d708e"/>
<path d="M181.70,440.60 L186.30,448.60 L177.10,448.60 Z" fill="#2a788e"/>
<path d="M209.90,440.60 L214.50,448.60 L205.30,448.60 Z" fill="#6fcd57"/>
<path d="M220.70,447.00 L225.30,455.00 L216.10,455.00 Z" fill="#b0dc2f"/>
<path d="M156.50,449.20 L161.10,457.20 L151.90,457.20 Z" fill="#423e83"/>
<path d="M189.70,446.30 L194.30,454.30 L185.10,454.30 Z" fill="#21968a"/>
<path d="M196.20,444.20 L200.80,452.20 L191.60,452.20 Z" fill="#229f87"/>
<path d="M201.90,445.60 L206.50,453.60 L197.30,453.60 Z" fill="#3ab876"/>
<path d="M212.00,447.00 L216.60,455.00 L207.40,455.00 Z" fill="#7ad151"/>
<path d="M180.30,451.40 L184.90,459.40 L175.70,459.40 Z" fill="#2c738e"/>
<path d="M189.70,451.40 L194.30,459.40 L185.10,459.40 Z" fill="#21988a"/>
<path d="M204.10,452.10 L208.70,460.10 L199.50,460.10 Z" fill="#44bf70"/>
<path d="M178.10,458.30 L182.70,466.30 L173.50,466.30 Z" fill="#2d708e"/>
<path d="M178.10,464.00 L182.70,472.00 L173.50,472.00 Z" fill="#31698d"/>
<path d="M165.90,471.20 L170.50,479.20 L161.30,479.20 Z" fill="#3f4988"/>
<path d="M190.40,461.90 L195.00,469.90 L185.80,469.90 Z" fill="#21918c"/>
<path d="M194.70,458.30 L199.30,466.30 L190.10,466.30 Z" fill="#22a386"/>
<path d="M193.30,467.60 L197.90,475.60 L188.70,475.60 Z" fill="#21918c"/>
<path d="M204.10,454.00 L208.70,462.00 L199.50,462.00 Z" fill="#44bf70"/>
<path d="M204.80,460.40 L209.40,468.40 L200.20,468.40 Z" fill="#54c467"/>
<path d="M200.50,466.20 L205.10,474.20 L195.90,474.20 Z" fill="#44bf70"/>
<path d="M213.50,459.70 L218.10,467.70 L208.90,467.70 Z" fill="#87d448"/>
<path d="M210.60,466.20 L215.20,474.20 L206.00,474.20 Z" fill="#95d740"/>
<path d="M220.70,472.00 L225.30,480.00 L216.10,480.00 Z" fill="#b0dc2f"/>
<path d="M201.90,472.00 L206.50,480.00 L197.30,480.00 Z" fill="#5fc860"/>
<path d="M207.70,471.20 L212.30,479.20 L203.10,479.20 Z" fill="#64ca5d"/>
<path d="M183.90,477.00 L188.50,485.00 L179.30,485.00 Z" fill="#21918c"/>
<path d="M193.30,482.00 L197.90,490.00 L188.70,490.00 Z" fill="#229c88"/>
<path d="M201.20,484.20 L205.80,492.20 L196.60,492.20 Z" fill="#44bf70"/>
<path d="M206.30,481.30 L210.90,489.30 L201.70,489.30 Z" fill="#5ac664"/>
<path d="M196.20,474.80 L200.80,482.80 L191.60,482.80 Z" fill="#22a884"/>
<path d="M186.00,479.20 L190.60,487.20 L181.40,487.20 Z" fill="#26848d"/>
<path d="M187.50,461.90 L192.10,469.90 L182.90,469.90 Z" fill="#21968a"/>
<path d="M205.00,462.00 L209.60,470.00 L200.40,470.00 Z" fill="#5ac664"/>
<path d="M208.00,468.00 L212.60,476.00 L203.40,476.00 Z" fill="#64ca5d"/>
<path d="M199.00,471.00 L203.60,479.00 L194.40,479.00 Z" fill="#44bf70"/>
<path d="M203.00,476.00 L207.60,484.00 L198.40,484.00 Z" fill="#4fc36a"/>
<path d="M214.60,457.90 L219.20,465.90 L210.00,465.90 Z" fill="#9bd83c"/>
<path d="M193.10,454.80 L197.70,462.80 L188.50,462.80 Z" fill="#229c88"/>
<path d="M195.40,462.00 L200.00,470.00 L190.80,470.00 Z" fill="#22a386"/>
<path d="M194.50,467.50 L199.10,475.50 L189.90,475.50 Z" fill="#22a884"/>
<path d="M201.50,470.00 L206.10,478.00 L196.90,478.00 Z" fill="#4fc36a"/>
<path d="M184.20,476.60 L188.80,484.60 L179.60,484.60 Z" fill="#248a8d"/>
<circle cx="260.40" cy="442.10" r="3.55" fill="#414487"/>
<circle cx="246.90" cy="449.70" r="3.55" fill="#460f61"/>
<circle cx="257.10" cy="446.70" r="3.55" fill="#482475"/>
<circle cx="272.40" cy="445.40" r="3.55" fill="#2d708e"/>
<circle cx="275.50" cy="450.80" r="3.55" fill="#2e6e8e"/>
<circle cx="268.30" cy="448.20" r="3.55" fill="#33648d"/>
<circle cx="263.20" cy="451.30" r="3.55" fill="#44347e"/>
<circle cx="256.10" cy="453.30" r="3.55" fill="#414487"/>
<circle cx="258.80" cy="452.00" r="3.55" fill="#433a82"/>
<circle cx="267.30" cy="459.40" r="3.55" fill="#39578b"/>
<circle cx="246.90" cy="461.50" r="3.55" fill="#45085b"/>
<circle cx="254.00" cy="463.50" r="3.55" fill="#471a6b"/>
<circle cx="255.10" cy="458.40" r="3.55" fill="#471d6e"/>
<circle cx="260.20" cy="458.40" r="3.55" fill="#404788"/>
<circle cx="263.80" cy="456.00" r="3.55" fill="#3f4988"/>
<circle cx="261.20" cy="464.50" r="3.55" fill="#414487"/>
<circle cx="268.30" cy="467.60" r="3.55" fill="#3b528a"/>
<circle cx="253.00" cy="467.60" r="3.55" fill="#471d6e"/>
<circle cx="264.80" cy="470.00" r="3.55" fill="#3c4f89"/>
<circle cx="273.40" cy="470.70" r="3.55" fill="#2c738e"/>
<circle cx="280.60" cy="468.10" r="3.55" fill="#2a788e"/>
<circle cx="282.10" cy="475.80" r="3.55" fill="#26848d"/>
<circle cx="247.40" cy="471.70" r="3.55" fill="#450c5e"/>
<circle cx="251.00" cy="468.60" r="3.55" fill="#461668"/>
<circle cx="253.00" cy="475.80" r="3.55" fill="#482475"/>
<circle cx="259.10" cy="471.70" r="3.55" fill="#414487"/>
<circle cx="261.20" cy="476.80" r="3.55" fill="#414487"/>
<circle cx="266.80" cy="475.80" r="3.55" fill="#33648d"/>
<circle cx="266.30" cy="481.90" r="3.55" fill="#39578b"/>
<circle cx="261.20" cy="488.50" r="3.55" fill="#414487"/>
<circle cx="270.40" cy="488.50" r="3.55" fill="#34628d"/>
<circle cx="255.30" cy="456.00" r="3.55" fill="#45317c"/>
<circle cx="256.80" cy="461.00" r="3.55" fill="#433a82"/>
<circle cx="257.80" cy="466.00" r="3.55" fill="#424185"/>
<circle cx="255.80" cy="471.00" r="3.55" fill="#443780"/>
<circle cx="264.80" cy="466.00" r="3.55" fill="#3f4988"/>
<circle cx="262.80" cy="472.00" r="3.55" fill="#404788"/>
<circle cx="257.80" cy="478.00" r="3.55" fill="#423e83"/>
<circle cx="263.80" cy="478.00" r="3.55" fill="#3c4f89"/>
<circle cx="268.80" cy="472.00" r="3.55" fill="#355f8d"/>
<circle cx="264.80" cy="452.00" r="3.55" fill="#414487"/>
<path d="M275.40,420.40 L280.00,428.40 L270.80,428.40 Z" fill="#39578b"/>
<path d="M281.80,418.90 L286.40,426.90 L277.20,426.90 Z" fill="#2e6e8e"/>
<path d="M292.20,419.40 L296.80,427.40 L287.60,427.40 Z" fill="#2c738e"/>
<path d="M279.70,426.90 L284.30,434.90 L275.10,434.90 Z" fill="#32668d"/>
<path d="M295.50,429.00 L300.10,437.00 L290.90,437.00 Z" fill="#22a186"/>
<path d="M299.20,430.50 L303.80,438.50 L294.60,438.50 Z" fill="#22a884"/>
<path d="M292.70,434.10 L297.30,442.10 L288.10,442.10 Z" fill="#229c88"/>
<path d="M311.40,432.60 L316.00,440.60 L306.80,440.60 Z" fill="#6fcd57"/>
<path d="M308.50,435.50 L313.10,443.50 L303.90,443.50 Z" fill="#5fc860"/>
<path d="M271.80,437.70 L276.40,445.70 L267.20,445.70 Z" fill="#3b528a"/>
<path d="M284.70,434.80 L289.30,442.80 L280.10,442.80 Z" fill="#2d708e"/>
<path d="M277.50,442.00 L282.10,450.00 L272.90,450.00 Z" fill="#2d708e"/>
<path d="M284.70,440.60 L289.30,448.60 L280.10,448.60 Z" fill="#2a788e"/>
<path d="M312.90,440.60 L317.50,448.60 L308.30,448.60 Z" fill="#6fcd57"/>
<path d="M323.70,447.00 L328.30,455.00 L319.10,455.00 Z" fill="#b0dc2f"/>
<path d="M259.50,449.20 L264.10,457.20 L254.90,457.20 Z" fill="#423e83"/>
<path d="M292.70,446.30 L297.30,454.30 L288.10,454.30 Z" fill="#21968a"/>
<path d="M299.20,444.20 L303.80,452.20 L294.60,452.20 Z" fill="#229f87"/>
<path d="M304.90,445.60 L309.50,453.60 L300.30,453.60 Z" fill="#3ab876"/>
<path d="M315.00,447.00 L319.60,455.00 L310.40,455.00 Z" fill="#7ad151"/>
<path d="M283.30,451.40 L287.90,459.40 L278.70,459.40 Z" fill="#2c738e"/>
<path d="M292.70,451.40 L297.30,459.40 L288.10,459.40 Z" fill="#21988a"/>
<path d="M307.10,452.10 L311.70,460.10 L302.50,460.10 Z" fill="#44bf70"/>
<path d="M281.10,458.30 L285.70,466.30 L276.50,466.30 Z" fill="#2d708e"/>
<path d="M281.10,464.00 L285.70,472.00 L276.50,472.00 Z" fill="#31698d"/>
<path d="M268.90,471.20 L273.50,479.20 L264.30,479.20 Z" fill="#3f4988"/>
<path d="M293.40,461.90 L298.00,469.90 L288.80,469.90 Z" fill="#21918c"/>
<path d="M297.70,458.30 L302.30,466.30 L293.10,466.30 Z" fill="#22a386"/>
<path d="M296.30,467.60 L300.90,475.60 L291.70,475.60 Z" fill="#21918c"/>
<path d="M307.10,454.00 L311.70,462.00 L302.50,462.00 Z" fill="#44bf70"/>
<path d="M307.80,460.40 L312.40,468.40 L303.20,468.40 Z" fill="#54c467"/>
<path d="M303.50,466.20 L308.10,474.20 L298.90,474.20 Z" fill="#44bf70"/>
<path d="M316.50,459.70 L321.10,467.70 L311.90,467.70 Z" fill="#87d448"/>
<path d="M313.60,466.20 L318.20,474.20 L309.00,474.20 Z" fill="#95d740"/>
<path d="M323.70,472.00 L328.30,480.00 L319.10,480.00 Z" fill="#b0dc2f"/>
<path d="M304.90,472.00 L309.50,480.00 L300.30,480.00 Z" fill="#5fc860"/>
<path d="M310.70,471.20 L315.30,479.20 L306.10,479.20 Z" fill="#64ca5d"/>
<path d="M286.90,477.00 L291.50,485.00 L282.30,485.00 Z" fill="#21918c"/>
<path d="M296.30,482.00 L300.90,490.00 L291.70,490.00 Z" fill="#229c88"/>
<path d="M304.20,484.20 L308.80,492.20 L299.60,492.20 Z" fill="#44bf70"/>
<path d="M309.30,481.30 L313.90,489.30 L304.70,489.30 Z" fill="#5ac664"/>
<path d="M299.20,474.80 L303.80,482.80 L294.60,482.80 Z" fill="#22a884"/>
<path d="M289.00,479.20 L293.60,487.20 L284.40,487.20 Z" fill="#26848d"/>
<path d="M290.50,461.90 L295.10,469.90 L285.90,469.90 Z" fill="#21968a"/>
<path d="M308.00,462.00 L312.60,470.00 L303.40,470.00 Z" fill="#5ac664"/>
<path d="M311.00,468.00 L315.60,476.00 L306.40,476.00 Z" fill="#64ca5d"/>
<path d="M302.00,471.00 L306.60,479.00 L297.40,479.00 Z" fill="#44bf70"/>
<path d="M306.00,476.00 L310.60,484.00 L301.40,484.00 Z" fill="#4fc36a"/>
<path d="M317.60,457.90 L322.20,465.90 L313.00,465.90 Z" fill="#9bd83c"/>
<path d="M296.10,454.80 L300.70,462.80 L291.50,462.80 Z" fill="#229c88"/>
<path d="M298.40,462.00 L303.00,470.00 L293.80,470.00 Z" fill="#22a386"/>
<path d="M297.50,467.50 L302.10,475.50 L292.90,475.50 Z" fill="#22a884"/>
<path d="M304.50,470.00 L309.10,478.00 L299.90,478.00 Z" fill="#4fc36a"/>
<path d="M287.20,476.60 L291.80,484.60 L282.60,484.60 Z" fill="#248a8d"/>
<line x1="11.30" y1="527.30" x2="11.30" y2="503.50" stroke="#000" stroke-width="1.1"/>
<path d="M11.3,499.6 L14.1,504.7 L8.5,504.7 Z" fill="#000"/>
<line x1="10.80" y1="526.70" x2="34.50" y2="526.70" stroke="#000" stroke-width="1.1"/>
<path d="M37.9,526.7 L33.9,524.9 L33.9,528.5 Z" fill="#000"/>
<text x="0" y="0" font-size="7.6" text-anchor="middle" textLength="13.70" lengthAdjust="spacingAndGlyphs" fill="#1e1e1e" stroke="#1e1e1e" stroke-width="0.14" transform="translate(8.70,518.30) rotate(-90)">PC2</text>
<text x="13.70" y="535.90" font-size="7.0" textLength="12.30" lengthAdjust="spacingAndGlyphs" fill="#1e1e1e" stroke="#1e1e1e" stroke-width="0.14">PC1</text>
<text x="333.40" y="414.60" font-size="7.6" textLength="28.90" lengthAdjust="spacingAndGlyphs" fill="#1e1e1e" stroke="#1e1e1e" stroke-width="0.14">AS score</text>
<text x="338.20" y="422.90" font-size="7.6" textLength="17.10" lengthAdjust="spacingAndGlyphs" fill="#1e1e1e" stroke="#1e1e1e" stroke-width="0.14">older</text>
<defs><linearGradient id="vg" x1="0" y1="1" x2="0" y2="0"><stop offset="0.0" stop-color="#440154"/><stop offset="0.1" stop-color="#482475"/><stop offset="0.2" stop-color="#414487"/><stop offset="0.3" stop-color="#355f8d"/><stop offset="0.4" stop-color="#2a788e"/><stop offset="0.5" stop-color="#21918c"/><stop offset="0.6" stop-color="#22a884"/><stop offset="0.7" stop-color="#44bf70"/><stop offset="0.8" stop-color="#7ad151"/><stop offset="0.9" stop-color="#bddf26"/><stop offset="1.0" stop-color="#fde725"/></linearGradient></defs>
<rect x="338.20" y="429.20" width="8.10" height="38.00" fill="url(#vg)"/>
<text x="347.40" y="431.00" font-size="8.0" textLength="14.00" lengthAdjust="spacingAndGlyphs" fill="#1e1e1e" stroke="#1e1e1e" stroke-width="0.14">1.00</text>
<line x1="338.20" y1="438.70" x2="339.80" y2="438.70" stroke="#fff" stroke-width="0.6"/>
<line x1="344.70" y1="438.70" x2="346.30" y2="438.70" stroke="#fff" stroke-width="0.6"/>
<text x="347.40" y="440.30" font-size="8.0" textLength="14.00" lengthAdjust="spacingAndGlyphs" fill="#1e1e1e" stroke="#1e1e1e" stroke-width="0.14">0.75</text>
<line x1="338.20" y1="448.20" x2="339.80" y2="448.20" stroke="#fff" stroke-width="0.6"/>
<line x1="344.70" y1="448.20" x2="346.30" y2="448.20" stroke="#fff" stroke-width="0.6"/>
<text x="347.40" y="449.60" font-size="8.0" textLength="14.00" lengthAdjust="spacingAndGlyphs" fill="#1e1e1e" stroke="#1e1e1e" stroke-width="0.14">0.50</text>
<line x1="338.20" y1="457.70" x2="339.80" y2="457.70" stroke="#fff" stroke-width="0.6"/>
<line x1="344.70" y1="457.70" x2="346.30" y2="457.70" stroke="#fff" stroke-width="0.6"/>
<text x="347.40" y="459.00" font-size="8.0" textLength="14.00" lengthAdjust="spacingAndGlyphs" fill="#1e1e1e" stroke="#1e1e1e" stroke-width="0.14">0.25</text>
<text x="347.40" y="467.70" font-size="8.0" textLength="14.00" lengthAdjust="spacingAndGlyphs" fill="#1e1e1e" stroke="#1e1e1e" stroke-width="0.14">0.00</text>
<text x="339.00" y="475.20" font-size="7.6" textLength="27.70" lengthAdjust="spacingAndGlyphs" fill="#1e1e1e" stroke="#1e1e1e" stroke-width="0.14">younger</text>
<circle cx="338.50" cy="493.30" r="2.4" fill="#000"/>
<text x="343.50" y="495.40" font-size="7.4" textLength="21.10" lengthAdjust="spacingAndGlyphs" fill="#1e1e1e" stroke="#1e1e1e" stroke-width="0.14">Young</text>
<path d="M338.7,500.4 L341.5,505.2 L335.9,505.2 Z" fill="#000"/>
<text x="343.50" y="505.20" font-size="7.4" textLength="17.50" lengthAdjust="spacingAndGlyphs" fill="#1e1e1e" stroke="#1e1e1e" stroke-width="0.14">Aged</text>
<rect x="409.30" y="415.00" width="95.50" height="95.70" fill="none" stroke="#000" stroke-width="1.35"/>
<line x1="406.70" y1="416.20" x2="408.60" y2="416.20" stroke="#000" stroke-width="0.7"/>
<text x="404.30" y="418.70" font-size="6.8" text-anchor="end" textLength="16.20" lengthAdjust="spacingAndGlyphs" fill="#1e1e1e" stroke="#1e1e1e" stroke-width="0.14">1.00</text>
<line x1="406.70" y1="438.75" x2="408.60" y2="438.75" stroke="#000" stroke-width="0.7"/>
<text x="404.30" y="441.25" font-size="6.8" text-anchor="end" textLength="16.20" lengthAdjust="spacingAndGlyphs" fill="#1e1e1e" stroke="#1e1e1e" stroke-width="0.14">0.75</text>
<line x1="406.70" y1="461.30" x2="408.60" y2="461.30" stroke="#000" stroke-width="0.7"/>
<text x="404.30" y="463.80" font-size="6.8" text-anchor="end" textLength="16.20" lengthAdjust="spacingAndGlyphs" fill="#1e1e1e" stroke="#1e1e1e" stroke-width="0.14">0.50</text>
<line x1="406.70" y1="483.85" x2="408.60" y2="483.85" stroke="#000" stroke-width="0.7"/>
<text x="404.30" y="486.35" font-size="6.8" text-anchor="end" textLength="16.20" lengthAdjust="spacingAndGlyphs" fill="#1e1e1e" stroke="#1e1e1e" stroke-width="0.14">0.25</text>
<line x1="406.70" y1="506.40" x2="408.60" y2="506.40" stroke="#000" stroke-width="0.7"/>
<text x="404.30" y="508.90" font-size="6.8" text-anchor="end" textLength="16.20" lengthAdjust="spacingAndGlyphs" fill="#1e1e1e" stroke="#1e1e1e" stroke-width="0.14">0.00</text>
<line x1="435.30" y1="511.40" x2="435.30" y2="512.80" stroke="#000" stroke-width="0.7"/>
<line x1="478.50" y1="511.40" x2="478.50" y2="512.80" stroke="#000" stroke-width="0.7"/>
<text x="435.30" y="523.00" font-size="7.6" text-anchor="middle" textLength="20.60" lengthAdjust="spacingAndGlyphs" fill="#1e1e1e" stroke="#1e1e1e" stroke-width="0.14">Young</text>
<text x="478.60" y="523.00" font-size="7.6" text-anchor="middle" textLength="17.00" lengthAdjust="spacingAndGlyphs" fill="#1e1e1e" stroke="#1e1e1e" stroke-width="0.14">Aged</text>
<text x="0" y="0" font-size="10.0" text-anchor="middle" textLength="27.40" lengthAdjust="spacingAndGlyphs" fill="#1e1e1e" stroke="#1e1e1e" stroke-width="0.14" transform="translate(382.90,461.00) rotate(-90)">AS score</text>
<path d="M439.10,469.20 C441.60,469.53 439.10,469.20 439.40,470.20 C439.70,471.20 439.37,470.87 440.00,472.20 C440.63,473.53 439.87,472.43 441.30,474.20 C442.73,475.97 441.37,475.17 444.30,477.50 C447.23,479.83 446.90,478.90 450.10,481.20 C453.30,483.50 452.40,482.57 453.90,484.40 C455.40,486.23 454.73,485.17 454.60,486.70 C454.47,488.23 454.63,487.00 453.50,489.00 C452.37,491.00 453.13,490.23 451.20,492.70 C449.27,495.17 450.23,493.93 447.70,496.40 C445.17,498.87 446.20,497.63 443.60,500.10 C441.00,502.57 441.87,501.73 439.90,503.80 C437.93,505.87 439.90,505.47 437.70,506.30 C435.50,507.13 435.50,507.13 433.30,506.30 C431.10,505.47 433.07,505.87 431.10,503.80 C429.13,501.73 430.00,502.57 427.40,500.10 C424.80,497.63 425.83,498.87 423.30,496.40 C420.77,493.93 421.73,495.17 419.80,492.70 C417.87,490.23 418.63,491.00 417.50,489.00 C416.37,487.00 416.53,488.23 416.40,486.70 C416.27,485.17 415.60,486.23 417.10,484.40 C418.60,482.57 417.70,483.50 420.90,481.20 C424.10,478.90 423.77,479.83 426.70,477.50 C429.63,475.17 428.27,475.97 429.70,474.20 C431.13,472.43 430.37,473.53 431.00,472.20 C431.63,470.87 431.30,471.20 431.60,470.20 C431.90,469.20 429.40,469.53 431.90,469.20 C434.40,468.87 436.60,468.87 439.10,469.20 Z" stroke="#000" fill="#4a5566" stroke-width="1.2"/>
<line x1="435.40" y1="468.90" x2="435.40" y2="506.20" stroke="#000" stroke-width="0.9"/>
<rect x="433.10" y="483.30" width="4.70" height="10.50" fill="#fff" stroke="#000" stroke-width="0.9"/>
<line x1="433.10" y1="488.60" x2="437.80" y2="488.60" stroke="#000" stroke-width="1.2"/>
<path d="M481.10,425.20 C482.70,425.47 481.00,425.20 481.30,426.00 C481.60,426.80 481.33,426.40 482.00,427.60 C482.67,428.80 481.70,427.33 483.30,429.60 C484.90,431.87 484.47,431.20 486.80,434.40 C489.13,437.60 488.63,436.23 490.30,439.20 C491.97,442.17 491.57,440.57 491.80,443.30 C492.03,446.03 492.17,443.77 491.00,447.40 C489.83,451.03 490.13,449.67 488.30,454.20 C486.47,458.73 487.20,456.43 485.50,461.00 C483.80,465.57 484.53,463.33 483.20,467.90 C481.87,472.47 482.53,470.13 481.50,474.70 C480.47,479.27 480.90,477.50 480.10,481.60 C479.30,485.70 479.63,485.20 479.10,487.00 C478.57,488.80 479.03,488.80 478.50,487.00 C477.97,485.20 478.30,485.70 477.50,481.60 C476.70,477.50 477.13,479.27 476.10,474.70 C475.07,470.13 475.73,472.47 474.40,467.90 C473.07,463.33 473.80,465.57 472.10,461.00 C470.40,456.43 471.13,458.73 469.30,454.20 C467.47,449.67 467.77,451.03 466.60,447.40 C465.43,443.77 465.57,446.03 465.80,443.30 C466.03,440.57 465.63,442.17 467.30,439.20 C468.97,436.23 468.47,437.60 470.80,434.40 C473.13,431.20 472.70,431.87 474.30,429.60 C475.90,427.33 474.93,428.80 475.60,427.60 C476.27,426.40 476.00,426.80 476.30,426.00 C476.60,425.20 474.90,425.47 476.50,425.20 C478.10,424.93 479.50,424.93 481.10,425.20 Z" stroke="#000" fill="#c51f38" stroke-width="1.2"/>
<line x1="478.60" y1="425.10" x2="478.60" y2="491.50" stroke="#000" stroke-width="0.9"/>
<circle cx="478.60" cy="491.00" r="1.1" fill="#000"/>
<rect x="476.70" y="442.20" width="4.40" height="18.60" fill="#fff" stroke="#000" stroke-width="0.9"/>
<line x1="476.70" y1="449.50" x2="481.10" y2="449.50" stroke="#000" stroke-width="1.2"/>
</svg>
</body></html>
